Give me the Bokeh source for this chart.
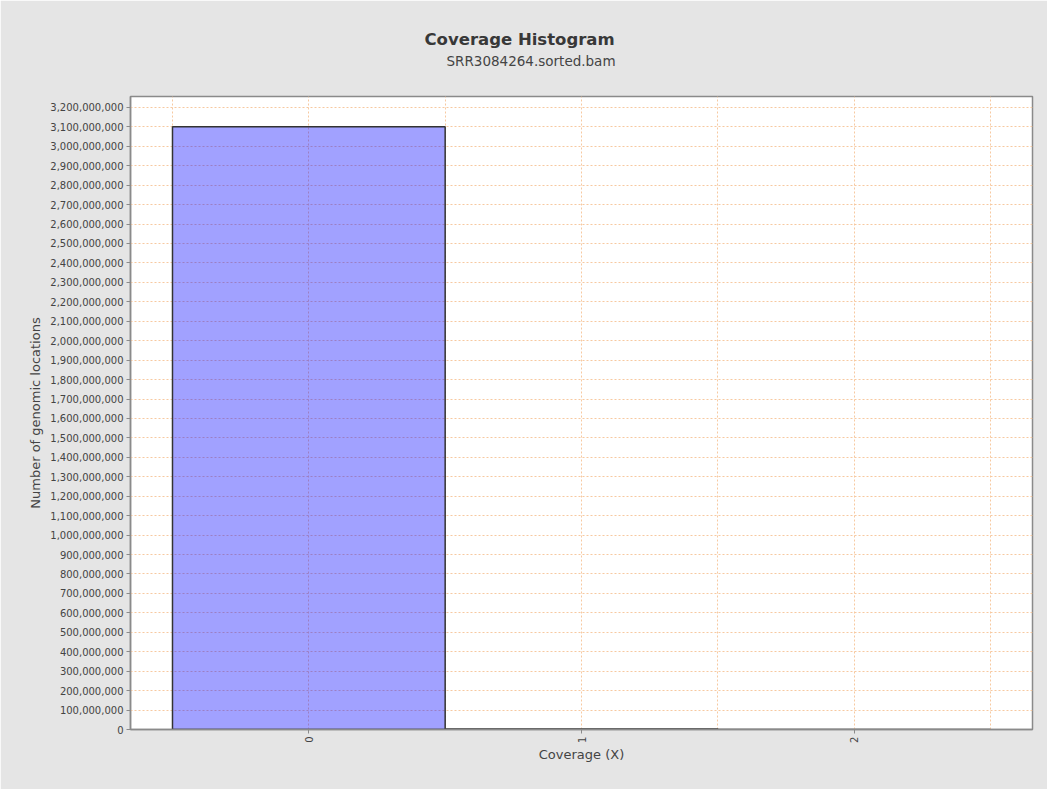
from bokeh.plotting import figure
from bokeh.models import (Title, FixedTicker, SingleIntervalTicker, NumeralTickFormatter, Range1d)
from bokeh.embed import file_html
from bokeh.resources import INLINE
import math

# Data
coverage = [0, 1, 2]
locations = [3101000000, 2000000, 500000]
x_tick_labels = ["0", "1", "2"]
title_text = "Coverage Histogram"
subtitle_text = "SRR3084264.sorted.bam"

BG = "#e5e5e5"
FONT = "DejaVu Sans"
TXT = "#444444"
GRID = "#f7c9a0"

p = figure(width=1047, height=789, output_backend="svg", toolbar_location=None,
           title=None,
           x_range=Range1d(-0.654, 2.654), y_range=Range1d(0, 3.256e9),
           min_border_left=130, min_border_right=15, min_border_top=96, min_border_bottom=60)

p.background_fill_color = "white"
p.border_fill_color = BG
p.outline_line_color = "#8a8a8a"
p.outline_line_width = 1.5

p.vbar(x=coverage, top=locations, width=1.0, bottom=0,
       fill_color="#0000ff", fill_alpha=0.37, line_color="#333333", line_width=1.5)

sub = Title(text=subtitle_text, align="left", text_font=FONT,
            text_font_size="13.5px", text_font_style="normal", text_color=TXT,
            standoff=56, offset=316)
p.add_layout(sub, "above")
main = Title(text=title_text, align="left", text_font=FONT,
             text_font_size="16.5px", text_font_style="bold", text_color="#383838",
             standoff=-52, offset=294)
p.add_layout(main, "above")

# axes
p.xaxis.ticker = FixedTicker(ticks=coverage)
p.xaxis.major_label_overrides = {c: l for c, l in zip(coverage, x_tick_labels)}
p.xaxis.major_label_orientation = math.pi / 2
p.xaxis.axis_label = "Coverage (X)"
p.yaxis.axis_label = "Number of genomic locations"
p.yaxis.ticker = SingleIntervalTicker(interval=100000000, num_minor_ticks=0)
p.yaxis.formatter = NumeralTickFormatter(format="0,0")

for ax in (p.xaxis[0], p.yaxis[0]):
    ax.axis_line_color = "#8a8a8a"
    ax.axis_line_width = 1.5
    ax.major_tick_line_color = "#8a8a8a"
    ax.major_tick_in = 0
    ax.major_tick_out = 4
    ax.minor_tick_line_color = None
    ax.major_label_text_font = FONT
    ax.major_label_text_font_size = "10px"
    ax.major_label_text_color = TXT
    ax.axis_label_text_font = FONT
    ax.axis_label_text_font_size = "13px"
    ax.axis_label_text_font_style = "normal"
    ax.axis_label_text_color = TXT
    ax.major_label_standoff = 3
p.xaxis.axis_label_standoff = 1
p.yaxis.axis_label_standoff = 4

# grids
p.xgrid.ticker = FixedTicker(ticks=[-0.5, 0, 0.5, 1, 1.5, 2, 2.5])
p.ygrid.ticker = SingleIntervalTicker(interval=100000000)
for g in (p.xgrid[0], p.ygrid[0]):
    g.grid_line_color = GRID
    g.grid_line_dash = "2 2"
    g.grid_line_width = 1

open("out.html", "w").write(file_html(p, INLINE))
